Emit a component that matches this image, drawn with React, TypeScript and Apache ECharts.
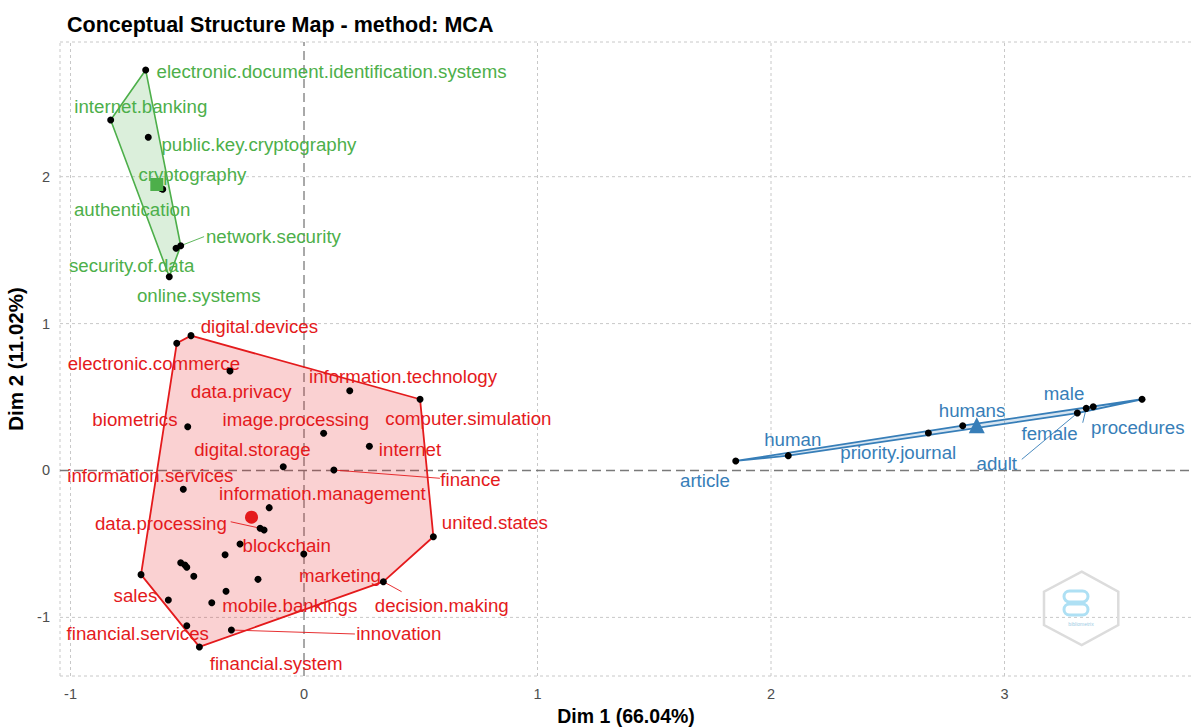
import React, { useEffect, useRef } from "react";
import * as echarts from "echarts";

// ---------- data (Dim 1, Dim 2) ----------
const greenX = [-0.678, -0.828, -0.667, -0.605, -0.612, -0.528, -0.548, -0.577];
const greenY = [2.726, 2.386, 2.268, 1.914, 1.92, 1.53, 1.513, 1.319];

const redX = [-0.484, -0.545, -0.317, 0.196, 0.497, -0.498, 0.084, 0.28, -0.089, 0.128, -0.517, -0.149, -0.188, -0.171, -0.274, -0.338, -0.001, -0.528, -0.51, -0.502, -0.698, -0.472, -0.197, 0.34, 0.554, -0.334, -0.581, -0.395, -0.502, -0.311, -0.448];
const redY = [0.918, 0.866, 0.677, 0.543, 0.485, 0.298, 0.253, 0.165, 0.026, 0.003, -0.128, -0.253, -0.393, -0.405, -0.5, -0.573, -0.568, -0.628, -0.643, -0.659, -0.709, -0.72, -0.741, -0.757, -0.451, -0.822, -0.882, -0.9, -1.057, -1.086, -1.201];

const blueX = [1.849, 2.074, 2.674, 2.821, 3.312, 3.35, 3.38, 3.589];
const blueY = [0.065, 0.101, 0.255, 0.305, 0.391, 0.423, 0.434, 0.485];

// ---------- labels (text and label centre in data units) ----------
const greenWords = ["electronic.document.identification.systems", "internet.banking", "public.key.cryptography", "cryptography", "authentication", "network.security", "security.of.data", "online.systems"];
const greenLX = [0.118, -0.699, -0.193, -0.478, -0.736, -0.131, -0.738, -0.451];
const greenLY = [2.715, 2.477, 2.221, 2.012, 1.78, 1.592, 1.394, 1.19];

const redWords = ["digital.devices", "electronic.commerce", "data.privacy", "information.technology", "biometrics", "image.processing", "computer.simulation", "digital.storage", "internet", "information.services", "finance", "information.management", "data.processing", "united.states", "blockchain", "marketing", "sales", "mobile.bankings", "decision.making", "financial.services", "innovation", "financial.system"];
const redLX = [-0.191, -0.643, -0.269, 0.424, -0.724, -0.035, 0.704, -0.221, 0.454, -0.658, 0.713, 0.079, -0.613, 0.817, -0.074, 0.154, -0.722, -0.061, 0.59, -0.712, 0.406, -0.119];
const redLY = [0.979, 0.73, 0.541, 0.639, 0.344, 0.344, 0.353, 0.14, 0.14, -0.031, -0.058, -0.16, -0.359, -0.355, -0.512, -0.718, -0.848, -0.92, -0.92, -1.113, -1.113, -1.312];

const blueWords = ["article", "human", "priority.journal", "humans", "male", "female", "procedures", "adult"];
const blueLX = [1.717, 2.093, 2.545, 2.861, 3.255, 3.193, 3.571, 2.967];
const blueLY = [-0.065, 0.208, 0.121, 0.407, 0.526, 0.253, 0.294, 0.049];

// ---------- leader lines (point index -> label end) ----------
const greenLeadIdx = [5];
const greenLeadX = [-0.428];
const greenLeadY = [1.592];
const redLeadIdx = [9, 12, 29, 23];
const redLeadX = [0.582, -0.314, 0.218, 0.418];
const redLeadY = [-0.053, -0.349, -1.113, -0.825];
const blueLeadIdx = [4, 5];
const blueLeadX = [3.074, 3.335];
const blueLeadY = [0.076, 0.325];

// ---------- axes ----------
const xTicks = [-1, 0, 1, 2, 3];
const yTicks = [-1, 0, 1, 2];
const X_MIN = -1.045;
const X_MAX = 3.803;
const Y_MIN = -1.399;
const Y_MAX = 2.917;

const FONT = '"Liberation Sans", Arial, Helvetica, sans-serif';
const GREEN = "#4DAF4A";
const RED = "#E41A1C";
const BLUE = "#377EB8";

function convexHull(xs: number[], ys: number[]): number[][] {
  const pts = xs.map((x, i) => [x, ys[i]]).sort((a, b) => a[0] - b[0] || a[1] - b[1]);
  const cross = (o: number[], a: number[], b: number[]) => (a[0] - o[0]) * (b[1] - o[1]) - (a[1] - o[1]) * (b[0] - o[0]);
  const lower: number[][] = [];
  for (const p of pts) {
    while (lower.length >= 2 && cross(lower[lower.length - 2], lower[lower.length - 1], p) <= 0) lower.pop();
    lower.push(p);
  }
  const upper: number[][] = [];
  for (let i = pts.length - 1; i >= 0; i--) {
    const p = pts[i];
    while (upper.length >= 2 && cross(upper[upper.length - 2], upper[upper.length - 1], p) <= 0) upper.pop();
    upper.push(p);
  }
  upper.pop();
  lower.pop();
  return lower.concat(upper);
}

const mean = (a: number[]) => a.reduce((s, v) => s + v, 0) / a.length;

export default function App() {
  const ref = useRef<HTMLDivElement>(null);

  useEffect(() => {
    if (!ref.current) return;
    const chart = echarts.init(ref.current, null, { renderer: "svg" });

    const clusters = [
      { color: GREEN, fill: "rgba(77,175,74,0.2)", xs: greenX, ys: greenY, words: greenWords, lx: greenLX, ly: greenLY, li: greenLeadIdx, lex: greenLeadX, ley: greenLeadY, symbol: "rect", size: 13, hw: 1.6 },
      { color: RED, fill: "rgba(228,26,28,0.2)", xs: redX, ys: redY, words: redWords, lx: redLX, ly: redLY, li: redLeadIdx, lex: redLeadX, ley: redLeadY, symbol: "circle", size: 13, hw: 1.8 },
      { color: BLUE, fill: "rgba(55,126,184,0.2)", xs: blueX, ys: blueY, words: blueWords, lx: blueLX, ly: blueLY, li: blueLeadIdx, lex: blueLeadX, ley: blueLeadY, symbol: "triangle", size: 16, hw: 1.8 },
    ];

    const gridLines: any[] = [];
    xTicks.forEach((v) => gridLines.push({ x1: v, y1: Y_MIN, x2: v, y2: Y_MAX, zero: v === 0 }));
    yTicks.forEach((v) => gridLines.push({ x1: X_MIN, y1: v, x2: X_MAX, y2: v, zero: v === 0 }));
    const borders = [
      { x1: X_MIN, y1: Y_MIN, x2: X_MIN, y2: Y_MAX },
      { x1: X_MIN, y1: Y_MAX, x2: X_MAX, y2: Y_MAX },
      { x1: X_MIN, y1: Y_MIN, x2: X_MAX, y2: Y_MIN },
    ];

    const series: any[] = [];

    // light grid lines
    series.push({
      type: "custom",
      coordinateSystem: "cartesian2d",
      silent: true,
      z: 1,
      clip: false,
      data: gridLines.filter((g) => !g.zero).concat(borders).map((g) => [g.x1, g.y1, g.x2, g.y2]),
      encode: { x: [0, 2], y: [1, 3] },
      renderItem: (params: any, api: any) => {
        const a = api.coord([api.value(0), api.value(1)]);
        const b = api.coord([api.value(2), api.value(3)]);
        return { type: "line", shape: { x1: a[0], y1: a[1], x2: b[0], y2: b[1] }, style: { stroke: "#c8c8c8", lineWidth: 1, lineDash: [3, 3] } };
      },
    });
    // zero lines
    series.push({
      type: "custom",
      coordinateSystem: "cartesian2d",
      silent: true,
      z: 2,
      data: gridLines.filter((g) => g.zero).map((g) => [g.x1, g.y1, g.x2, g.y2]),
      encode: { x: [0, 2], y: [1, 3] },
      renderItem: (params: any, api: any) => {
        const a = api.coord([api.value(0), api.value(1)]);
        const b = api.coord([api.value(2), api.value(3)]);
        return { type: "line", shape: { x1: a[0], y1: a[1], x2: b[0], y2: b[1] }, style: { stroke: "#7a7a7a", lineWidth: 1.3, lineDash: [9, 5] } };
      },
    });

    clusters.forEach((c) => {
      // labels
      series.push({
        type: "custom",
        coordinateSystem: "cartesian2d",
        silent: true,
        z: 3,
        clip: false,
        data: c.lx.map((x, i) => [x, c.ly[i]]),
        renderItem: (params: any, api: any) => {
          const p = api.coord([api.value(0), api.value(1)]);
          return {
            type: "text",
            x: p[0],
            y: p[1],
            style: { text: c.words[params.dataIndex], fill: c.color, fontSize: 18.7, fontFamily: FONT, align: "center", verticalAlign: "middle" },
          };
        },
      });
      // leader lines
      series.push({
        type: "custom",
        coordinateSystem: "cartesian2d",
        silent: true,
        z: 3,
        data: c.lex.map((x, i) => [x, c.ley[i], c.xs[c.li[i]], c.ys[c.li[i]]]),
        encode: { x: [0, 2], y: [1, 3] },
        renderItem: (params: any, api: any) => {
          const a = api.coord([api.value(0), api.value(1)]);
          const b = api.coord([api.value(2), api.value(3)]);
          return { type: "line", shape: { x1: a[0], y1: a[1], x2: b[0], y2: b[1] }, style: { stroke: c.color, lineWidth: 0.9 } };
        },
      });
      // convex hull
      const hull = convexHull(c.xs, c.ys);
      series.push({
        type: "custom",
        coordinateSystem: "cartesian2d",
        silent: true,
        z: 4,
        data: hull,
        renderItem: (params: any, api: any) => {
          if (params.dataIndex !== 0) return null;
          const pts = hull.map((p) => api.coord(p));
          return { type: "polygon", shape: { points: pts }, style: { fill: c.fill, stroke: c.color, lineWidth: c.hw, lineJoin: "round" } };
        },
      });
      // points
      series.push({
        type: "scatter",
        z: 5,
        silent: true,
        symbolSize: 7,
        itemStyle: { color: "#000000", opacity: 1 },
        data: c.xs.map((x, i) => [x, c.ys[i]]),
      });
      // centroid
      series.push({
        type: "scatter",
        z: 6,
        silent: true,
        symbol: c.symbol,
        symbolSize: c.size,
        itemStyle: { color: c.color, opacity: 1 },
        data: [[mean(c.xs), mean(c.ys)]],
      });
    });

    const hex = [
      [1081.7, 571.7],
      [1118.3, 591.7],
      [1118.3, 625],
      [1081.7, 645],
      [1044, 625],
      [1044, 591.7],
    ];

    chart.setOption({
      animation: false,
      backgroundColor: "#ffffff",
      title: {
        text: "Conceptual Structure Map - method: MCA",
        left: 62,
        top: 9,
        textStyle: { fontFamily: FONT, fontSize: 21.5, fontWeight: "bold", color: "#000000" },
      },
      grid: { left: 60, top: 42, width: 1132, height: 634, containLabel: false, outerBoundsMode: "none" },
      xAxis: {
        type: "value",
        min: X_MIN,
        max: X_MAX,
        axisLine: { show: false },
        axisTick: { show: false },
        splitLine: { show: false },
        axisLabel: { customValues: xTicks, color: "#4d4d4d", fontSize: 14.5, fontFamily: FONT, margin: 10 },
        name: "Dim 1 (66.04%)",
        nameLocation: "middle",
        nameGap: 30,
        nameTextStyle: { fontFamily: FONT, fontSize: 19.5, fontWeight: "bold", color: "#000000" },
      },
      yAxis: {
        type: "value",
        min: Y_MIN,
        max: Y_MAX,
        axisLine: { show: false },
        axisTick: { show: false },
        splitLine: { show: false },
        axisLabel: { customValues: yTicks, color: "#4d4d4d", fontSize: 14.5, fontFamily: FONT, margin: 10 },
        name: "Dim 2 (11.02%)",
        nameLocation: "middle",
        nameGap: 28,
        nameTextStyle: { fontFamily: FONT, fontSize: 20.5, fontWeight: "bold", color: "#000000" },
      },
      graphic: [
        { type: "polygon", shape: { points: hex }, style: { fill: "rgba(255,255,255,0)", stroke: "#dcdcdc", lineWidth: 2.5 }, z: 50 },
        { type: "rect", shape: { x: 1064, y: 591, width: 24, height: 11, r: 5.5 }, style: { fill: "rgba(255,255,255,0)", stroke: "#aee0f4", lineWidth: 3 }, z: 50 },
        { type: "rect", shape: { x: 1064, y: 604, width: 24, height: 11, r: 5.5 }, style: { fill: "rgba(255,255,255,0)", stroke: "#aee0f4", lineWidth: 3 }, z: 50 },
        { type: "text", x: 1081, y: 624, style: { text: "bibliometrix", fill: "#9ccbe4", fontSize: 5, fontFamily: FONT, align: "center", verticalAlign: "middle" }, z: 50 },
      ],
      series,
    });

    return () => chart.dispose();
  }, []);

  return <div ref={ref} style={{ position: "absolute", left: 0, top: 0, width: 1192, height: 728 }} />;
}
